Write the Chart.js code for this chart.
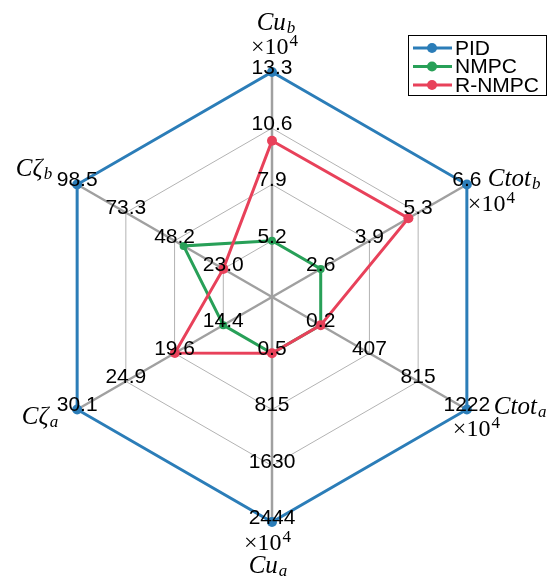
<!DOCTYPE html>
<html>
<head>
<meta charset="utf-8">
<script src="https://cdn.jsdelivr.net/npm/chart.js@4"></script>
<style>
  html, body { margin: 0; padding: 0; background: #fff; }
  #wrap { width: 551px; height: 579px; position: relative; }
</style>
</head>
<body>
<div id="wrap"><canvas id="chart"></canvas></div>
<script>
// axes, clockwise from the top
var axisBase = ['Cu', 'Ctot', 'Ctot', 'Cu', 'C\u03b6', 'C\u03b6'];
var axisSub = ['b', 'b', 'a', 'a', 'a', 'b'];
var axisScaled = [true, true, true, true, false, false]; // shows x10^4

// tick labels of each axis (rings 1..4)
var ticksCub = ['5.2', '7.9', '10.6', '13.3'];
var ticksCtotb = ['2.6', '3.9', '5.3', '6.6'];
var ticksCtota = ['0.2', '407', '815', '1222'];
var ticksCua = ['0.5', '815', '1630', '2444'];
var ticksCza = ['14.4', '19.6', '24.9', '30.1'];
var ticksCzb = ['23.0', '48.2', '73.3', '98.5'];
var axisTicks = [ticksCub, ticksCtotb, ticksCtota, ticksCua, ticksCza, ticksCzb];

// series values (same axis order)
var pid = [13.3, 6.6, 1222, 2444, 30.1, 98.5];
var nmpc = [5.2, 2.6, 0.2, 0.5, 14.4, 43.5];
var rnmpc = [10.0, 5.0, 0.2, 0.5, 19.6, 23.0];

var colors = { pid: '#2b7db8', nmpc: '#28a058', rnmpc: '#e8415a' };

// each axis: value at centre = first tick - one step, value at edge = last tick
function norm(vals) {
    return vals.map(function (v, i) {
        var t = axisTicks[i].map(parseFloat);
        var step = (t[3] - t[0]) / 3;
        var lo = t[0] - step;
        return 4 * (v - lo) / (t[3] - lo);
    });
}

function ds(label, vals, col, order, r) {
    return {
        label: label,
        data: norm(vals),
        borderColor: col,
        backgroundColor: col,
        pointBackgroundColor: col,
        pointBorderColor: col,
        pointBorderWidth: 0,
        pointRadius: r,
        borderWidth: 3,
        fill: false,
        order: order
    };
}

function mathText(ctx, base, sub, x, y, align) {
    ctx.font = 'italic 25px "Liberation Serif"';
    var wb = ctx.measureText(base).width;
    ctx.font = 'italic 17px "Liberation Serif"';
    var ws = ctx.measureText(sub).width;
    var w = wb + ws + 1;
    var x0 = align === 'center' ? x - w / 2 : (align === 'right' ? x - w : x);
    ctx.textAlign = 'left';
    ctx.textBaseline = 'alphabetic';
    ctx.font = 'italic 25px "Liberation Serif"';
    ctx.fillText(base, x0, y);
    ctx.font = 'italic 17px "Liberation Serif"';
    ctx.fillText(sub, x0 + wb + 1, y + 3);
}

function powText(ctx, x, y, align) {
    ctx.font = '24px "Liberation Serif"';
    var wb = ctx.measureText('\u00d710').width;
    ctx.font = '17px "Liberation Serif"';
    var ws = ctx.measureText('4').width;
    var w = wb + ws;
    var x0 = align === 'center' ? x - w / 2 : (align === 'right' ? x - w : x);
    ctx.textAlign = 'left';
    ctx.textBaseline = 'alphabetic';
    ctx.font = '24px "Liberation Serif"';
    ctx.fillText('\u00d710', x0, y);
    ctx.font = '17px "Liberation Serif"';
    ctx.fillText('4', x0 + wb + 1, y - 8);
}

// name offsets from the outer vertex: [nameDx, nameDy, nameAlign, powDx, powDy, powAlign]
var nameOffsets = [
    [4, -42, 'center', 2, -18, 'center'],
    [21, 1, 'left', 1, 26, 'left'],
    [27, 4, 'left', -14, 26, 'left'],
    [-4, 51, 'center', -5, 28, 'center'],
    [-19, 14, 'right', 0, 0, 'left'],
    [-25, -9, 'right', 0, 0, 'left']
];

var overlay = {
    id: 'overlay',
    afterDatasetsDraw: function (chart) {
        var ctx = chart.ctx;
        var sc = chart.scales.r;
        ctx.save();
        ctx.fillStyle = '#000';
        // per-axis tick labels
        ctx.font = '21px "Liberation Sans", Arial, sans-serif';
        ctx.textAlign = 'center';
        ctx.textBaseline = 'middle';
        for (var i = 0; i < axisTicks.length; i++) {
            for (var k = 0; k < 4; k++) {
                var p = sc.getPointPositionForValue(i, k + 1);
                ctx.fillText(axisTicks[i][k], p.x, p.y - 4);
            }
        }
        // axis names
        for (var j = 0; j < axisBase.length; j++) {
            var o = sc.getPointPositionForValue(j, 4);
            var off = nameOffsets[j];
            mathText(ctx, axisBase[j], axisSub[j], o.x + off[0], o.y + off[1], off[2]);
            if (axisScaled[j]) powText(ctx, o.x + off[3], o.y + off[4], off[5]);
        }
        // legend
        var items = [['PID', colors.pid], ['NMPC', colors.nmpc], ['R-NMPC', colors.rnmpc]];
        ctx.fillStyle = '#fff';
        ctx.fillRect(408.5, 35.5, 138, 60);
        ctx.strokeStyle = '#000';
        ctx.lineWidth = 1;
        ctx.strokeRect(408.5, 35.5, 138, 60);
        ctx.font = '21px "Liberation Sans", Arial, sans-serif';
        ctx.textAlign = 'left';
        ctx.textBaseline = 'middle';
        items.forEach(function (it, n) {
            var y = 48 + n * 18.5;
            ctx.strokeStyle = it[1];
            ctx.lineWidth = 3;
            ctx.beginPath();
            ctx.moveTo(413, y);
            ctx.lineTo(452, y);
            ctx.stroke();
            ctx.fillStyle = it[1];
            ctx.beginPath();
            ctx.arc(432, y, 5, 0, Math.PI * 2);
            ctx.fill();
            ctx.fillStyle = '#000';
            ctx.fillText(it[0], 455, y + 1);
        });
        ctx.restore();
    }
};

var ctx = document.getElementById('chart').getContext('2d');
var chart = new Chart(ctx, {
    type: 'radar',
    data: {
        labels: axisBase.map(function (b, i) { return b + axisSub[i]; }),
        datasets: [
            ds('PID', pid, colors.pid, 3, 5),
            ds('NMPC', nmpc, colors.nmpc, 2, 4),
            ds('R-NMPC', rnmpc, colors.rnmpc, 1, 5)
        ]
    },
    options: {
        responsive: true,
        maintainAspectRatio: false,
        devicePixelRatio: 1,
        animation: false,
        layout: { padding: { left: 47, right: 54, top: 72, bottom: 57 } },
        elements: { line: { tension: 0 } },
        plugins: { legend: { display: false }, tooltip: { enabled: false } },
        scales: {
            r: {
                min: 0,
                max: 4,
                ticks: { display: false, stepSize: 1 },
                pointLabels: { display: false },
                grid: { circular: false, color: '#b3b3b3', lineWidth: 1 },
                angleLines: { color: '#a0a0a0', lineWidth: 2.5 }
            }
        }
    },
    plugins: [overlay]
});
</script>
</body>
</html>
